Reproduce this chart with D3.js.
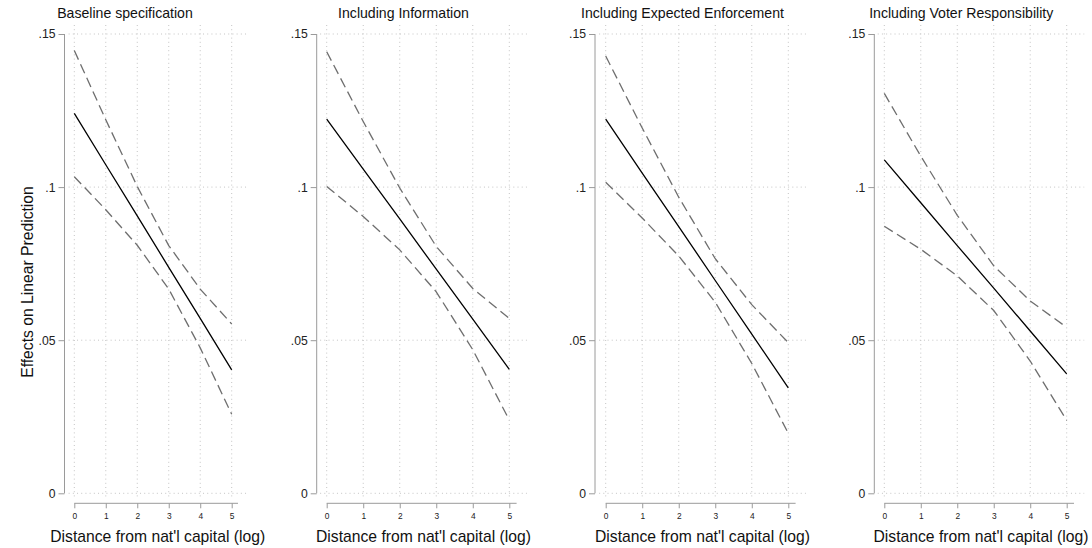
<!DOCTYPE html>
<html>
<head>
<meta charset="utf-8">
<script src="https://cdn.jsdelivr.net/npm/d3@7"></script>
<style>
  html, body { margin: 0; padding: 0; background: #fff; }
  svg { display: block; font-family: "Liberation Sans", Arial, Helvetica, sans-serif; }
</style>
</head>
<body>
<svg id="chart" width="1092" height="548"></svg>
<script>
// Distance values at which the margins were evaluated
const distance = [0, 1, 2, 3, 4, 5];

const panelTitles = [
  "Baseline specification",
  "Including Information",
  "Including Expected Enforcement",
  "Including Voter Responsibility"
];

// Point estimates and 95% confidence bounds, one array per model
const baselineEst   = [0.1241, 0.1073, 0.0906, 0.0738, 0.0571, 0.0403];
const baselineUpper = [0.1446, 0.1220, 0.1002, 0.0809, 0.0667, 0.0553];
const baselineLower = [0.1034, 0.0926, 0.0810, 0.0667, 0.0475, 0.0258];

const informationEst   = [0.1222, 0.1059, 0.0896, 0.0732, 0.0569, 0.0405];
const informationUpper = [0.1442, 0.1214, 0.0997, 0.0806, 0.0669, 0.0571];
const informationLower = [0.1002, 0.0904, 0.0795, 0.0658, 0.0469, 0.0239];

const enforcementEst   = [0.1222, 0.1046, 0.0871, 0.0695, 0.0520, 0.0344];
const enforcementUpper = [0.1428, 0.1193, 0.0967, 0.0766, 0.0616, 0.0492];
const enforcementLower = [0.1016, 0.0899, 0.0775, 0.0624, 0.0424, 0.0196];

const responsibilityEst   = [0.1089, 0.0949, 0.0809, 0.0670, 0.0530, 0.0390];
const responsibilityUpper = [0.1306, 0.1101, 0.0908, 0.0743, 0.0628, 0.0542];
const responsibilityLower = [0.0872, 0.0797, 0.0710, 0.0597, 0.0432, 0.0238];

const yTicks = [0, 0.05, 0.1, 0.15];
const yTickLabels = ["0", ".05", ".1", ".15"];
const xTicks = [0, 1, 2, 3, 4, 5];
const xTickLabels = ["0", "1", "2", "3", "4", "5"];

const xTitle = "Distance from nat'l capital (log)";
const yTitle = "Effects on Linear Prediction";

const series = [
  { est: baselineEst, upper: baselineUpper, lower: baselineLower },
  { est: informationEst, upper: informationUpper, lower: informationLower },
  { est: enforcementEst, upper: enforcementUpper, lower: enforcementLower },
  { est: responsibilityEst, upper: responsibilityUpper, lower: responsibilityLower }
];

// Layout of each sub-graph: y-axis position, pixel span of x = 0..5, title centre
const layout = [
  { axisX: 64.5,  x0: 74.3,  x5: 231.7,  titleX: 125 },
  { axisX: 316.7, x0: 326.7, x5: 509.3,  titleX: 403.5 },
  { axisX: 595,   x0: 605.7, x5: 788.3,  titleX: 682.5 },
  { axisX: 874.3, x0: 884.3, x5: 1066.7, titleX: 961.2 }
];

const y = d3.scaleLinear().domain([0, 0.15]).range([493.3, 34]);
const axisY = 503.3;
const gridTop = 25, gridBottom = 499;

const svg = d3.select("#chart");
const gridColor = "#c4c4c4";
const axisColor = "#9a9a9a";

layout.forEach((L, i) => {
  const x = d3.scaleLinear().domain([0, 5]).range([L.x0, L.x5]);
  const g = svg.append("g");
  const s = series[i];

  // dotted grid
  g.selectAll(".vgrid").data(xTicks).join("line")
    .attr("x1", d => x(d)).attr("x2", d => x(d))
    .attr("y1", gridTop).attr("y2", gridBottom)
    .attr("stroke", gridColor).attr("stroke-width", 1)
    .attr("stroke-dasharray", "1,3.2");
  g.selectAll(".hgrid").data(yTicks).join("line")
    .attr("x1", x(-0.18)).attr("x2", x(5.48))
    .attr("y1", d => y(d)).attr("y2", d => y(d))
    .attr("stroke", gridColor).attr("stroke-width", 1)
    .attr("stroke-dasharray", "1,3.2");

  // y axis
  const ya = g.append("g").attr("transform", `translate(${L.axisX},0)`)
    .call(d3.axisLeft(y).tickValues(yTicks).tickFormat((d, k) => yTickLabels[k])
      .tickSize(6).tickPadding(3).tickSizeOuter(0));
  ya.select(".domain").attr("stroke", axisColor).attr("d", `M0,${y(0.15)}V${y(0)}`);
  ya.selectAll(".tick line").attr("stroke", axisColor);
  ya.selectAll(".tick text").attr("fill", "#222").attr("font-size", 12.2)
    .attr("font-family", "Liberation Sans, Arial, sans-serif");

  // x axis
  const xa = g.append("g").attr("transform", `translate(0,${axisY})`)
    .call(d3.axisBottom(x).tickValues(xTicks).tickFormat((d, k) => xTickLabels[k])
      .tickSize(5).tickPadding(4.5).tickSizeOuter(0));
  xa.select(".domain").attr("stroke", axisColor).attr("d", `M${x(0)},0H${x(5.2)}`);
  xa.selectAll(".tick line").attr("stroke", axisColor);
  xa.selectAll(".tick text").attr("fill", "#222").attr("font-size", 8.4)
    .attr("font-family", "Liberation Sans, Arial, sans-serif");

  // confidence bounds and estimate
  const line = d3.line().x((d, k) => x(distance[k])).y(d => y(d));
  [s.upper, s.lower].forEach(arr => {
    g.append("path").datum(arr).attr("d", line)
      .attr("fill", "none").attr("stroke", "#6e6e6e").attr("stroke-width", 1.3)
      .attr("stroke-dasharray", "10,5");
  });
  g.append("path").datum(s.est).attr("d", line)
    .attr("fill", "none").attr("stroke", "#000").attr("stroke-width", 1.3);

  // titles
  g.append("text").attr("x", L.titleX).attr("y", 18.3)
    .attr("text-anchor", "middle").attr("font-size", 14.1).attr("fill", "#111")
    .text(panelTitles[i]);
  g.append("text").attr("x", (x(-0.18) + x(5.48)) / 2).attr("y", 542)
    .attr("text-anchor", "middle").attr("font-size", 15.7).attr("fill", "#111")
    .text(xTitle);
});

// shared y-axis title on the first sub-graph
svg.append("text")
  .attr("transform", "translate(33,282) rotate(-90)")
  .attr("text-anchor", "middle").attr("font-size", 15.7).attr("fill", "#111")
  .text(yTitle);
</script>
</body>
</html>
